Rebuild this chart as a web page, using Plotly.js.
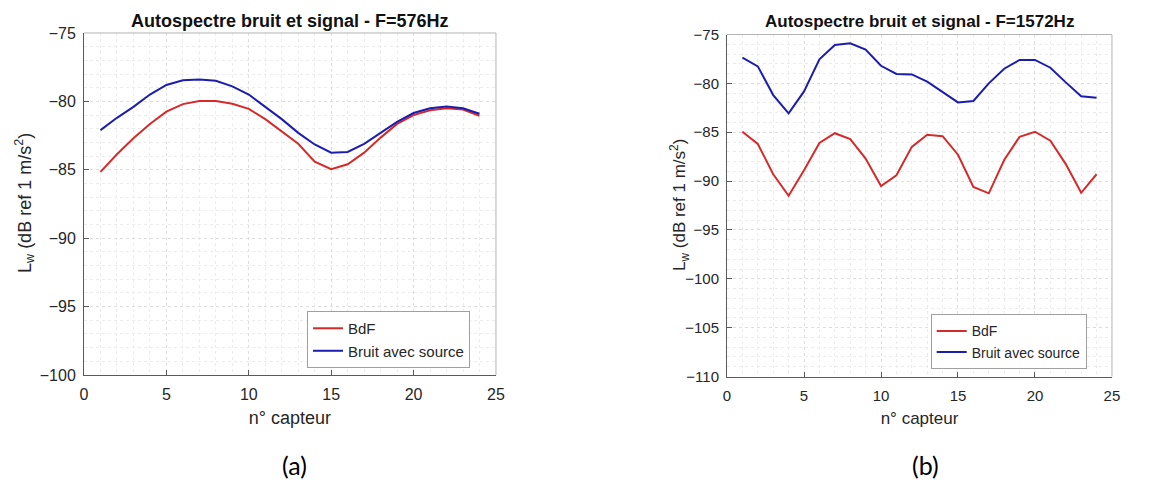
<!DOCTYPE html>
<html>
<head>
<meta charset="utf-8">
<script src="https://cdn.plot.ly/plotly-3.0.1.min.js"></script>
<style>html,body{margin:0;padding:0;background:#fff;}#chart{width:1170px;height:480px;}</style>
</head>
<body>
<div id="chart"></div>
<script>
// n° capteur
const capteurs = [1,2,3,4,5,6,7,8,9,10,11,12,13,14,15,16,17,18,19,20,21,22,23,24];

// (a) F = 576 Hz
const bdf576 = [-85.15,-83.87,-82.7,-81.65,-80.75,-80.2,-79.97,-79.97,-80.17,-80.55,-81.3,-82.2,-83.1,-84.4,-84.95,-84.6,-83.75,-82.65,-81.65,-81.0,-80.65,-80.5,-80.6,-81.05];
const source576 = [-82.1,-81.2,-80.4,-79.5,-78.8,-78.45,-78.4,-78.5,-78.9,-79.5,-80.4,-81.3,-82.3,-83.15,-83.75,-83.7,-83.1,-82.3,-81.5,-80.85,-80.5,-80.37,-80.5,-80.9];

// (b) F = 1572 Hz
const bdf1572 = [-84.95,-86.2,-89.3,-91.5,-88.9,-86.1,-85.1,-85.7,-87.7,-90.5,-89.4,-86.5,-85.25,-85.4,-87.3,-90.6,-91.25,-87.85,-85.46,-84.95,-85.87,-88.26,-91.2,-89.3];
const source1572 = [-77.37,-78.26,-81.2,-83.07,-80.82,-77.54,-76.08,-75.9,-76.55,-78.2,-79.04,-79.08,-79.83,-80.9,-81.95,-81.8,-80.0,-78.5,-77.6,-77.6,-78.4,-79.9,-81.33,-81.47];

const seriesNames = ['BdF', 'Bruit avec source'];
const titles = ['Autospectre bruit et signal - F=576Hz', 'Autospectre bruit et signal - F=1572Hz'];
const captions = ['(a)', '(b)'];
const xTitle = 'n° capteur';
const yTitle = 'L<sub>w</sub> (dB ref 1 m/s<sup>2</sup>)';

const RED = '#d62a2a';
const BLUE = '#1c1cb0';
const FONT = 'Liberation Sans, Arial, sans-serif';
const TXT = '#262626';

const traces = [
  {x: capteurs, y: bdf576, name: seriesNames[0], mode: 'lines', line: {color: RED, width: 2}, xaxis: 'x', yaxis: 'y', legend: 'legend'},
  {x: capteurs, y: source576, name: seriesNames[1], mode: 'lines', line: {color: BLUE, width: 2}, xaxis: 'x', yaxis: 'y', legend: 'legend'},
  {x: capteurs, y: bdf1572, name: seriesNames[0], mode: 'lines', line: {color: RED, width: 2}, xaxis: 'x2', yaxis: 'y2', legend: 'legend2'},
  {x: capteurs, y: source1572, name: seriesNames[1], mode: 'lines', line: {color: BLUE, width: 2}, xaxis: 'x2', yaxis: 'y2', legend: 'legend2'}
];

function xax(domain, anchor, fs) {
  return {
    domain: domain, anchor: anchor, range: [0, 25], dtick: 5, tick0: 0,
    showline: true, linecolor: '#5a5a5a', linewidth: 1, mirror: false,
    ticks: 'inside', ticklen: 5, tickcolor: '#5a5a5a',
    showgrid: true, gridcolor: '#dedede', griddash: 'dot', gridwidth: 1,
    minor: {dtick: 1, showgrid: true, gridcolor: '#ececec', griddash: 'dot', ticks: ''},
    zeroline: false, ticklabelstandoff: 5,
    tickfont: {family: FONT, size: fs, color: TXT},
    title: {text: xTitle, font: {family: FONT, size: fs + 2, color: TXT}, standoff: 9}
  };
}
function yax(domain, anchor, range, fs) {
  return {
    domain: domain, anchor: anchor, range: range, dtick: 5, tick0: -75,
    showline: true, linecolor: '#5a5a5a', linewidth: 1, mirror: false,
    ticks: 'inside', ticklen: 5, tickcolor: '#5a5a5a',
    showgrid: true, gridcolor: '#dedede', griddash: 'dot', gridwidth: 1,
    minor: {dtick: 1, showgrid: true, gridcolor: '#ececec', griddash: 'dot', ticks: ''},
    zeroline: false, ticklabelstandoff: 4,
    tickfont: {family: FONT, size: fs, color: TXT}
  };
}

const legendStyle = (x, y, fs) => ({
  x: x, y: y, xanchor: 'right', yanchor: 'bottom', xref: 'paper', yref: 'paper',
  bgcolor: '#ffffff', bordercolor: '#a0a0a0', borderwidth: 1, itemwidth: 30,
  font: {family: FONT, size: fs, color: TXT}, tracegroupgap: 0
});

const boxLine = (xr, yr, x0, y0, x1, y1) => ({
  type: 'line', xref: xr, yref: yr, x0: x0, y0: y0, x1: x1, y1: y1,
  line: {color: '#b4b4b4', width: 1}, layer: 'above'
});

const layout = {
  width: 1170, height: 480,
  margin: {l: 0, r: 0, t: 0, b: 0},
  paper_bgcolor: '#ffffff', plot_bgcolor: '#ffffff',
  font: {family: FONT, color: TXT},
  showlegend: true,
  xaxis: xax([0.0718, 0.4239], 'y', 16),
  yaxis: yax([0.2188, 0.9313], 'x', [-100, -75], 16),
  xaxis2: xax([0.6214, 0.9504], 'y2', 15),
  yaxis2: yax([0.2156, 0.9281], 'x2', [-110, -75], 15),
  legend: legendStyle(0.4017, 0.2333, 15),
  legend2: legendStyle(0.9288, 0.2306, 14),
  shapes: [
    boxLine('x domain', 'y domain', 0, 1, 1, 1),
    boxLine('x domain', 'y domain', 1, 0, 1, 1),
    boxLine('x2 domain', 'y2 domain', 0, 1, 1, 1),
    boxLine('x2 domain', 'y2 domain', 1, 0, 1, 1)
  ],
  annotations: [
    {text: '<b>' + titles[0] + '</b>', xref: 'x domain', yref: 'paper', x: 0.5, y: 1 - 21/480, xanchor: 'center', yanchor: 'middle', showarrow: false, font: {family: FONT, size: 18, color: '#111'}},
    {text: '<b>' + titles[1] + '</b>', xref: 'x2 domain', yref: 'paper', x: 0.5, y: 1 - 22/480, xanchor: 'center', yanchor: 'middle', showarrow: false, font: {family: FONT, size: 17, color: '#111'}},
    {text: yTitle, xref: 'paper', yref: 'paper', x: 25/1170, y: 1 - 203/480, xanchor: 'center', yanchor: 'middle', textangle: -90, showarrow: false, font: {family: FONT, size: 18, color: TXT}},
    {text: yTitle, xref: 'paper', yref: 'paper', x: 680/1170, y: 1 - 205/480, xanchor: 'center', yanchor: 'middle', textangle: -90, showarrow: false, font: {family: FONT, size: 17, color: TXT}},
    {text: captions[0], xref: 'paper', yref: 'paper', x: 294/1170, y: 1 - 465/480, xanchor: 'center', yanchor: 'middle', showarrow: false, font: {family: 'Lato, Open Sans, sans-serif', size: 25, color: '#000'}},
    {text: captions[1], xref: 'paper', yref: 'paper', x: 925/1170, y: 1 - 465/480, xanchor: 'center', yanchor: 'middle', showarrow: false, font: {family: 'Lato, Open Sans, sans-serif', size: 25, color: '#000'}}
  ]
};

Plotly.newPlot('chart', traces, layout, {displayModeBar: false, staticPlot: true});
</script>
</body>
</html>
